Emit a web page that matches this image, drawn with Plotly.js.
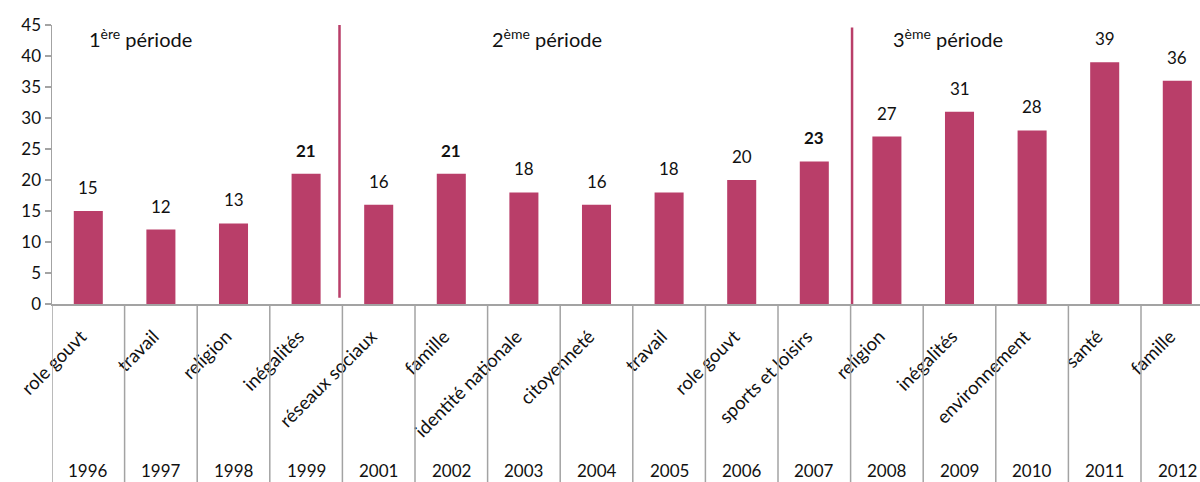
<!DOCTYPE html>
<html>
<head>
<meta charset="utf-8">
<script src="https://cdn.plot.ly/plotly-3.0.1.min.js"></script>
<style>html,body{margin:0;padding:0;background:#fff;}#chart{width:1200px;height:482px;}</style>
</head>
<body>
<div id="chart"></div>
<script>
const years = ["1996","1997","1998","1999","2001","2002","2003","2004","2005","2006","2007","2008","2009","2010","2011","2012"];
const topics = ["role gouvt","travail","religion","inégalités","réseaux sociaux","famille","identité nationale","citoyenneté","travail","role gouvt","sports et loisirs","religion","inégalités","environnement","santé","famille"];
const values = [15,12,13,21,16,21,18,16,18,20,23,27,31,28,39,36];
const boldYears = ["1999","2002","2007"];
const periods = ["1<sup>ère</sup> période","2<sup>ème</sup> période","3<sup>ème</sup> période"];

const FONT = "Lato, 'Open Sans', sans-serif";
const idx = years.map((_, i) => i);
const barColor = "#B93E69";
const gray = "#A3A3A3";

const plotTopPx = 25, plotBotPx = 304, H = 482;
const plotH = plotBotPx - plotTopPx;
const bottomPaper = -(H - plotBotPx) / plotH;

const trace = {
  type: "bar",
  x: idx,
  y: values,
  width: 0.4,
  marker: {color: barColor},
  hoverinfo: "skip"
};

const annotations = [];
values.forEach((v, i) => {
  const b = boldYears.includes(years[i]);
  annotations.push({
    x: i, y: v, xref: "x", yref: "y",
    text: b ? "<b>" + v + "</b>" : String(v),
    showarrow: false, yanchor: "bottom", yshift: 11,
    font: {family: FONT, size: 17, color: "#111"}
  });
  annotations.push({
    x: i, y: -(H - plotBotPx - 12) / plotH, xref: "x", yref: "paper",
    text: years[i], showarrow: false, yanchor: "middle",
    font: {family: FONT, size: 17, color: "#111"}
  });
});
const periodPos = [{x: 0.72, y: 42.9}, {x: 6.32, y: 42.9}, {x: 11.84, y: 42.9}];
periods.forEach((p, k) => {
  annotations.push({
    x: periodPos[k].x, y: periodPos[k].y, xref: "x", yref: "y",
    text: p, showarrow: false, xanchor: "center", yanchor: "middle",
    font: {family: FONT, size: 20, color: "#111"}
  });
});

const shapes = [];
for (let i = -0.5; i <= years.length - 0.5; i += 1) {
  shapes.push({type: "line", xref: "x", yref: "paper", x0: i, x1: i, y0: 0, y1: bottomPaper,
    line: {color: gray, width: 1.5}});
}
shapes.push({type: "line", xref: "x", yref: "y", x0: 3.46, x1: 3.46, y0: 1, y1: 45.5,
  line: {color: barColor, width: 2.5}});
shapes.push({type: "line", xref: "x", yref: "y", x0: 10.52, x1: 10.52, y0: 0, y1: 44.6,
  line: {color: barColor, width: 2.5}});

const layout = {
  width: 1200, height: 482,
  margin: {l: 52, r: 0, t: plotTopPx, b: H - plotBotPx},
  paper_bgcolor: "#fff", plot_bgcolor: "#fff",
  showlegend: false,
  bargap: 0.6,
  xaxis: {
    range: [-0.5, -0.5 + (1200 - 52) / 72.6],
    tickvals: idx.map(i => i - 0.1), ticktext: topics, tickangle: -45,
    ticks: "", showgrid: false, zeroline: false,
    showline: true, linecolor: gray, linewidth: 1.5,
    ticklabelstandoff: 13,
    tickfont: {family: FONT, size: 18.5, color: "#111"},
    fixedrange: true
  },
  yaxis: {
    range: [0, 45], dtick: 5, tick0: 0,
    ticks: "outside", ticklen: 6, tickcolor: gray, tickwidth: 1.5,
    showgrid: false, zeroline: false,
    showline: true, linecolor: gray, linewidth: 1.5,
    tickfont: {family: FONT, size: 17, color: "#111"},
    fixedrange: true
  },
  annotations: annotations,
  shapes: shapes
};

Plotly.newPlot("chart", [trace], layout, {displayModeBar: false, staticPlot: true});
</script>
</body>
</html>
